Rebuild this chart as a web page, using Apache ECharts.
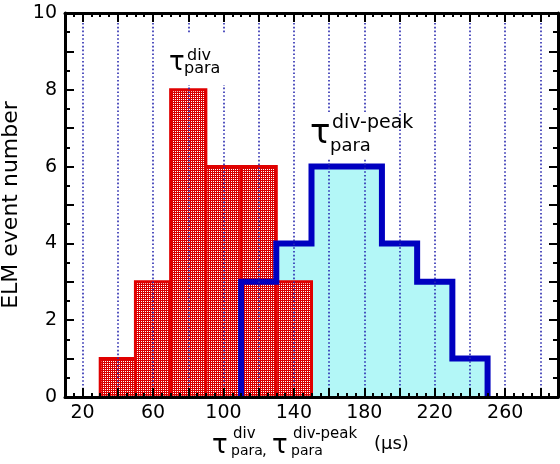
<!DOCTYPE html>
<html lang="en">
<head>
<meta charset="utf-8" />
<title>ELM tau histogram</title>
<script src="https://cdn.jsdelivr.net/npm/echarts@6/dist/echarts.min.js"></script>
<style>
  * { margin: 0; padding: 0; }
  body { width: 560px; height: 464px; background: #fff; }
  #main { width: 560px; height: 464px; }
</style>
</head>
<body>
<div id="main"></div>
<script>
  // 20 us bins: left edge of each bin and the number of ELM events in it
  const binWidth = 20;
  const divStart = [30, 50, 70, 90, 110, 130];
  const divCount = [1, 3, 8, 6, 6, 3];
  const peakStart = [110, 130, 150, 170, 190, 210, 230];
  const peakCount = [3, 4, 6, 6, 4, 3, 1];

  const xLabels = [20, 60, 100, 140, 180, 220, 260];
  const xGrid = [20, 40, 60, 80, 100, 120, 140, 160, 180, 200, 220, 240, 260, 280];
  const yLabels = [0, 2, 4, 6, 8, 10];

  const font = "'DejaVu Sans', 'Liberation Sans', Arial, sans-serif";

  function checkerPattern() {
    const c = document.createElement("canvas");
    c.width = 2;
    c.height = 2;
    const ctx = c.getContext("2d");
    ctx.fillStyle = "#d80000";
    ctx.fillRect(0, 0, 2, 2);
    ctx.fillStyle = "#ffffff";
    ctx.fillRect(1, 1, 1, 1);
    return c;
  }
  const pattern = checkerPattern();

  const divBars = divStart.map((x, i) => [x, x + binWidth, divCount[i]]);

  // staircase outline of the div-peak histogram
  const peakSteps = [[peakStart[0], 0]];
  peakStart.forEach((x, i) => {
    peakSteps.push([x, peakCount[i]], [x + binWidth, peakCount[i]]);
  });
  peakSteps.push([peakStart[peakStart.length - 1] + binWidth, 0]);

  function xAxisCfg(position, main) {
    return {
      type: "value",
      position: position,
      min: 10,
      max: 290,
      interval: main ? 10 : 5,
      z: 10,
      axisLine: { show: main, onZero: false, lineStyle: { color: "#000", width: 3 } },
      axisTick: main
        ? { inside: true, length: 9, customValues: xGrid, lineStyle: { color: "#000", width: 2 } }
        : { inside: true, length: 4, lineStyle: { color: "#000", width: 2 } },
      axisLabel: {
        show: main && position === "bottom",
        margin: 7,
        color: "#000",
        fontSize: 19,
        fontFamily: font,
        customValues: xLabels,
        formatter: (v) => (xLabels.includes(v) ? String(v) : ""),
      },
      splitLine: { show: false },
    };
  }

  function yAxisCfg(position) {
    const left = position === "left";
    return {
      type: "value",
      position: position,
      min: 0,
      max: 10,
      interval: 1,
      z: 10,
      name: left ? "ELM event number" : "",
      nameLocation: "middle",
      nameGap: 40,
      nameTextStyle: { color: "#000", fontSize: 22, fontFamily: font },
      axisLine: { show: true, onZero: false, lineStyle: { color: "#000", width: 3 } },
      axisTick: { inside: true, length: 9, lineStyle: { color: "#000", width: 2 } },
      minorTick: { show: true, splitNumber: 2, length: 5, lineStyle: { color: "#000", width: 2 } },
      axisLabel: {
        show: left,
        margin: 8,
        color: "#000",
        fontSize: 19,
        fontFamily: font,
        formatter: (v) => (yLabels.includes(v) ? String(v) : ""),
      },
      splitLine: { show: false },
    };
  }

  function txt(text, x, y, size) {
    return {
      type: "text",
      x: x,
      y: y,
      z: 30,
      style: {
        text: text,
        fill: "#000",
        font: size + "px " + font,
        textAlign: "left",
        textVerticalAlign: "middle",
      },
    };
  }

  function whiteBox(x, y, w, h) {
    return { type: "rect", z: 29, shape: { x: x, y: y, width: w, height: h }, style: { fill: "#fff" } };
  }

  const chart = echarts.init(document.getElementById("main"));

  const option = {
    animation: false,
    backgroundColor: "#fff",
    grid: { left: 65, right: 2, top: 13, bottom: 67, containLabel: false, outerBoundsMode: "none" },
    xAxis: [
      xAxisCfg("bottom", true),
      xAxisCfg("bottom", false),
      xAxisCfg("top", true),
      xAxisCfg("top", false),
    ],
    yAxis: [yAxisCfg("left"), yAxisCfg("right")],
    series: [
      {
        // cyan fill of the div-peak histogram
        type: "line",
        data: peakSteps,
        z: 1,
        symbol: "none",
        silent: true,
        lineStyle: { width: 0, opacity: 0 },
        areaStyle: { color: "#b3f7f7", opacity: 1 },
      },
      {
        type: "custom",
        data: divBars,
        z: 3,
        silent: true,
        encode: { x: [0, 1], y: 2 },
        renderItem: function (params, api) {
          const p0 = api.coord([api.value(0), api.value(2)]);
          const p1 = api.coord([api.value(1), 0]);
          return {
            type: "rect",
            shape: { x: p0[0], y: p0[1], width: p1[0] - p0[0], height: p1[1] - p0[1] },
            style: {
              fill: { image: pattern, repeat: "repeat" },
              stroke: "#e00000",
              lineWidth: 3,
            },
          };
        },
      },
      {
        // div-peak outline
        type: "line",
        data: peakSteps,
        z: 4,
        symbol: "none",
        silent: true,
        lineStyle: { color: "#0000c0", width: 6, join: "miter", cap: "butt" },
      },
      {
        // dotted grid lines, drawn above the bars
        type: "line",
        data: [],
        z: 6,
        silent: true,
        markLine: {
          z: 6,
          silent: true,
          symbol: "none",
          animation: false,
          label: { show: false },
          lineStyle: { color: "#2a2ab0", width: 1.6, type: [1.6, 2.2] },
          data: xGrid.map((v) => ({ xAxis: v })),
        },
      },
    ],
    graphic: [
      whiteBox(162, 33, 70, 52),
      txt("\u03c4", 169, 63, 26),
      txt("div", 187, 56, 16),
      txt("para", 184, 69, 16),

      whiteBox(303, 113, 94, 46),
      txt("\u03c4", 310, 134, 34),
      txt("div-peak", 332, 123, 19),
      txt("para", 330, 146, 18),

      txt("\u03c4", 212, 446, 26),
      txt("div", 233, 434, 15),
      txt("para", 231, 451, 14),
      txt(",", 262, 451, 15),
      txt("\u03c4", 272, 446, 26),
      txt("div-peak", 293, 434, 15),
      txt("para", 291, 451, 14),
      txt("(\u03bcs)", 374, 444, 18),
    ],
  };

  chart.setOption(option);
</script>
</body>
</html>
